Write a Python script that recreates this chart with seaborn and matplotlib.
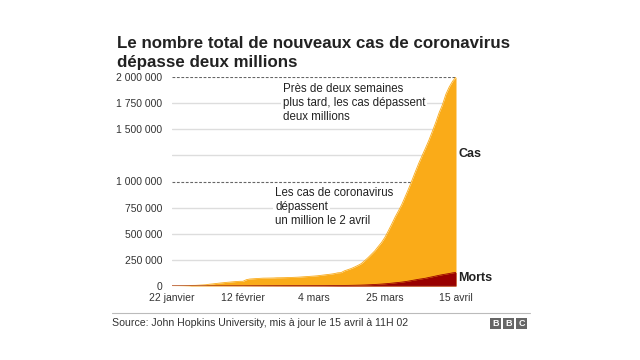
import matplotlib
matplotlib.use("Agg")
import matplotlib.pyplot as plt
from matplotlib.patches import Rectangle
from matplotlib.lines import Line2D
import seaborn as sns
import pandas as pd

sns.set_theme(style="white")
plt.rcParams['font.family'] = ['Liberation Sans', 'DejaVu Sans']

# ---- data (cumulative, 22 Jan -> 15 Apr) ----
start_date = "2020-01-22"
cases = [555, 654, 941, 1434, 2118, 2927, 5578, 6166, 8234, 9927,
         12038, 16787, 19881, 23892, 27635, 30794, 34391, 37120, 40150, 42762,
         44802, 45221, 60368, 66885, 69030, 71224, 73258, 75136, 75639, 76197,
         76819, 78572, 78958, 79561, 80406, 81388, 82746, 84112, 86011, 88369,
         90306, 92840, 95120, 97886, 101801, 105847, 109821, 113590, 118620, 125875,
         128352, 145205, 156101, 167454, 181574, 197102, 214821, 242570, 272208, 304507,
         336953, 378235, 418045, 467653, 529591, 593291, 660706, 720117, 782365, 857487,
         932605, 1013466, 1095917, 1176060, 1249754, 1321481, 1396476, 1479804, 1565278, 1657526,
         1735650, 1834721, 1904838, 1960000, 2000000]
deaths = [17, 18, 26, 42, 56, 82, 131, 133, 171, 213,
          259, 362, 426, 492, 564, 634, 719, 806, 906, 1013,
          1113, 1118, 1371, 1523, 1666, 1770, 1868, 2007, 2122, 2247,
          2251, 2458, 2469, 2629, 2708, 2770, 2814, 2872, 2941, 2996,
          3085, 3160, 3254, 3348, 3460, 3558, 3802, 3988, 4262, 4615,
          4720, 5404, 5819, 6440, 7126, 7905, 8733, 9867, 11299, 13015,
          14623, 16497, 18615, 21181, 23970, 27198, 30652, 33925, 37582, 42107,
          47180, 53167, 58787, 64606, 69374, 74565, 81865, 88338, 95455, 102525,
          108503, 114091, 119482, 125984, 130000]

tick_dates = ["2020-01-22", "2020-02-12", "2020-03-04", "2020-03-25", "2020-04-15"]
tick_labels = ["22 janvier", "12 février", "4 mars", "25 mars", "15 avril"]
y_grid = [0, 250000, 500000, 750000, 1000000, 1250000, 1500000, 1750000, 2000000]
y_labels = ["0", "250 000", "500 000", "750 000", "1 000 000", "", "1 500 000", "1 750 000", "2 000 000"]
dashed_levels = [1000000, 2000000]

title = "Le nombre total de nouveaux cas de coronavirus\ndépasse deux millions"
note_top = ["Près de deux semaines", "plus tard, les cas dépassent", "deux millions"]
note_bottom = ["Les cas de coronavirus", "dépassent", "un million le 2 avril"]
source = "Source: John Hopkins University, mis à jour le 15 avril à 11H 02"

dates = pd.date_range(start_date, periods=len(cases), freq="D")
df = pd.DataFrame({"date": dates, "cases": cases, "deaths": deaths[:len(cases)]})

ORANGE = "#FAAB18"
DARKRED = "#990000"

fig = plt.figure(figsize=(6.4, 3.6), dpi=100)
ax = fig.add_axes([172/640, 1-286/360, 284/640, 209/360])

# grid lines
for lvl in y_grid:
    if lvl in dashed_levels:
        ax.axhline(lvl, color="#666666", lw=0.8, ls=(0, (2.5, 1.5)), zorder=1)
    elif lvl == 0:
        ax.axhline(lvl, color="#777777", lw=0.9, zorder=4)
    else:
        ax.axhline(lvl, color="#dddddd", lw=1.0, zorder=1)

ax.fill_between(df["date"], df["cases"], color=ORANGE, lw=0, zorder=2)
ax.fill_between(df["date"], df["deaths"], color=DARKRED, lw=0, zorder=3)
sns.lineplot(data=df, x="date", y="cases", color=ORANGE, lw=0.6, ax=ax, zorder=2)
sns.lineplot(data=df, x="date", y="deaths", color=DARKRED, lw=0.6, ax=ax, zorder=3)

ax.set_xlim(pd.Timestamp(start_date), pd.Timestamp(tick_dates[-1]))
ax.set_ylim(0, 2000000)
ax.set_xticks([pd.Timestamp(d) for d in tick_dates])
ax.set_xticklabels(tick_labels, fontsize=7.5, color="#333333")
ax.set_yticks(y_grid)
ax.set_yticklabels(y_labels, fontsize=7.5, color="#333333")
ax.tick_params(axis="both", length=0)
ax.tick_params(axis="y", pad=7)
ax.tick_params(axis="x", pad=5)
ax.set_xlabel("")
ax.set_ylabel("")
for s in ax.spines.values():
    s.set_visible(False)
ax.patch.set_alpha(0)

# annotations
for i, line in enumerate(note_top):
    ax.text(0.391, 0.943 - i*0.067, line, transform=ax.transAxes, fontsize=8.3,
            color="#222222", va="center", ha="left", zorder=5,
            bbox=dict(facecolor="white", edgecolor="none", pad=1.2))
for i, line in enumerate(note_bottom):
    ax.text(0.363, 0.445 - i*0.067, line, transform=ax.transAxes, fontsize=8.3,
            color="#222222", va="center", ha="left", zorder=5,
            bbox=dict(facecolor="white", edgecolor="none", pad=1.2))

ax.text(1.008, 0.632, "Cas", transform=ax.transAxes, fontsize=9, fontweight="bold",
        color="#222222", va="center", ha="left")
ax.text(1.006, 0.036, "Morts", transform=ax.transAxes, fontsize=9, fontweight="bold",
        color="#222222", va="center", ha="left")

# title
fig.text(117/640, 1-36.5/360, title, fontsize=12.2, fontweight="bold", color="#222222",
         va="top", ha="left", linespacing=1.28)

# footer
fig.add_artist(Line2D([112/640, 530/640], [1-313/360, 1-313/360], color="#bbbbbb", lw=0.8))
fig.text(112/640, 1-322.5/360, source, fontsize=7.6, color="#333333", va="center", ha="left")
for j, letter in enumerate("BBC"):
    x0 = (490 + j*13)/640
    fig.add_artist(Rectangle((x0, 1-329/360), 11/640, 11/360, transform=fig.transFigure,
                             facecolor="#666666", edgecolor="none"))
    fig.text(x0 + 5.5/640, 1-323.5/360, letter, fontsize=6.5, fontweight="bold",
             color="white", va="center", ha="center")

fig.savefig("out.png", dpi=100, facecolor="white")
